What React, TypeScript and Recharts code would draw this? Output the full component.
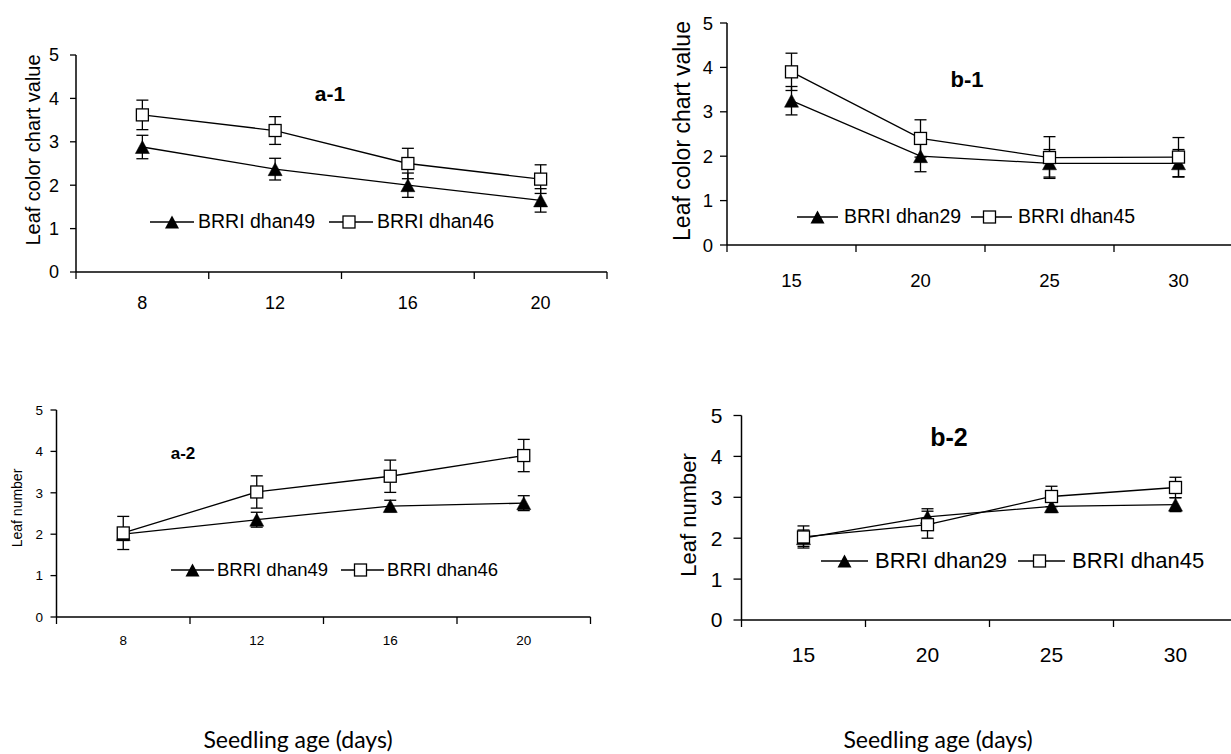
import React from 'react';
import { LineChart, Line, XAxis, YAxis, ErrorBar, Legend, Label } from 'recharts';

// ---------- data ----------
const agesA = ['8', '12', '16', '20'];
const agesB = ['15', '20', '25', '30'];
const yTicks = [0, 1, 2, 3, 4, 5];

const varietiesA = ['BRRI dhan49', 'BRRI dhan46'];
const varietiesB = ['BRRI dhan29', 'BRRI dhan45'];
const seriesKeys = ['tri', 'sq'];

const panelTitles = ['a-1', 'b-1', 'a-2', 'b-2'];
const lccTitle = 'Leaf color chart value';
const leafTitle = 'Leaf number';
const xTitle = 'Seedling age (days)';

// a-1 : leaf color chart value
const a1Dhan49 = [2.88, 2.37, 2.0, 1.65];
const a1Dhan49Err = [0.27, 0.25, 0.28, 0.27];
const a1Dhan46 = [3.62, 3.26, 2.5, 2.14];
const a1Dhan46Err = [0.34, 0.32, 0.35, 0.33];

// b-1 : leaf color chart value
const b1Dhan29 = [3.25, 2.0, 1.84, 1.84];
const b1Dhan29Err = [0.32, 0.35, 0.31, 0.31];
const b1Dhan45 = [3.9, 2.4, 1.97, 1.98];
const b1Dhan45Err = [0.42, 0.42, 0.47, 0.44];

// a-2 : leaf number
const a2Dhan49 = [2.0, 2.35, 2.68, 2.75];
const a2Dhan49Err = [0.15, 0.18, 0.14, 0.18];
const a2Dhan46 = [2.03, 3.02, 3.4, 3.9];
const a2Dhan46Err = [0.4, 0.39, 0.39, 0.39];

// b-2 : leaf number
const b2Dhan29 = [2.0, 2.52, 2.78, 2.82];
const b2Dhan29Err = [0.2, 0.2, 0.15, 0.17];
const b2Dhan45 = [2.03, 2.33, 3.02, 3.24];
const b2Dhan45Err = [0.27, 0.33, 0.25, 0.25];

type Row = { age: string; tri: number; triErr: number; sq: number; sqErr: number };

const buildRows = (cats: string[], s1: number[], e1: number[], s2: number[], e2: number[]): Row[] =>
  cats.map((c, i) => ({ age: c, tri: s1[i], triErr: e1[i], sq: s2[i], sqErr: e2[i] }));

const rowsA1 = buildRows(agesA, a1Dhan49, a1Dhan49Err, a1Dhan46, a1Dhan46Err);
const rowsB1 = buildRows(agesB, b1Dhan29, b1Dhan29Err, b1Dhan45, b1Dhan45Err);
const rowsA2 = buildRows(agesA, a2Dhan49, a2Dhan49Err, a2Dhan46, a2Dhan46Err);
const rowsB2 = buildRows(agesB, b2Dhan29, b2Dhan29Err, b2Dhan45, b2Dhan45Err);

// ---------- styling ----------
const ARIAL = '"Liberation Sans", Arial, Helvetica, sans-serif';
const CALIBRI = 'Lato, "Open Sans", sans-serif';
const BLACK = '#000';

const TriangleDot = (props: any) => {
  const { cx, cy } = props;
  if (cx == null || cy == null) return <g />;
  return <path d={`M${cx},${cy - 6.5} L${cx + 7},${cy + 6.5} L${cx - 7},${cy + 6.5} Z`} fill={BLACK} stroke={BLACK} strokeWidth={0.5} />;
};

const SquareDot = (props: any) => {
  const { cx, cy } = props;
  if (cx == null || cy == null) return <g />;
  return <rect x={cx - 6} y={cy - 6} width={12} height={12} fill="#fff" stroke={BLACK} strokeWidth={1.3} />;
};

const makeCatTick = (fontSize: number, labelOffset: number, tickLen: number) => (props: any) => {
  const { x, y, payload, index, visibleTicksCount } = props;
  const half = payload && typeof payload.offset === 'number' ? payload.offset : 0;
  const axisY = y;
  return (
    <g>
      <line x1={x - half} y1={axisY} x2={x - half} y2={axisY + tickLen} stroke={BLACK} strokeWidth={1.3} />
      {index === visibleTicksCount - 1 ? (
        <line x1={x + half} y1={axisY} x2={x + half} y2={axisY + tickLen} stroke={BLACK} strokeWidth={1.3} />
      ) : null}
      <text x={x} y={axisY + labelOffset} dy="0.355em" textAnchor="middle" fontSize={fontSize} fill={BLACK} fontFamily={ARIAL}>
        {payload.value}
      </text>
    </g>
  );
};

type PanelCfg = {
  rows: Row[];
  names: string[];
  title: string;
  yTitle: string;
  box: { left: number; top: number; width: number; height: number };
  margin: { top: number; right: number; bottom: number; left: number };
  yAxisWidth: number;
  xAxisHeight: number;
  tickFont: number;
  yTickSize: number;
  yTickMargin: number;
  xLabelOffset: number;
  yTitleFont: number;
  yTitlePos: [number, number];
  titleFont: number;
  titlePos: [number, number];
  legendFont: number;
  legendPos: [number, number];
  legendMarkerW: number;
  legendTextGap: number;
  legendItemGap: number;
  xTitlePos?: [number, number];
};

const Panel = ({ cfg }: { cfg: PanelCfg }) => {
  const legendH = 24;
  const renderLegend = (props: any) => {
    const payload = [...(props.payload || [])].sort(
      (a: any, b: any) => seriesKeys.indexOf(a.dataKey) - seriesKeys.indexOf(b.dataKey)
    );
    return (
      <div style={{ display: 'flex', alignItems: 'center', height: legendH, fontFamily: ARIAL, fontSize: cfg.legendFont, color: BLACK, whiteSpace: 'nowrap', lineHeight: 1 }}>
        {payload.map((p: any, i: number) => {
          const w = cfg.legendMarkerW;
          const isTri = p.dataKey === 'tri';
          const mx = isTri ? w / 2 : w / 2 - 2;
          return (
            <div key={i} style={{ display: 'flex', alignItems: 'center', marginLeft: i ? cfg.legendItemGap : 0 }}>
              <svg width={w} height={16} style={{ display: 'block' }}>
                <line x1={0} y1={8} x2={w} y2={8} stroke={BLACK} strokeWidth={1.3} />
                {isTri ? (
                  <path d={`M${mx},${1.5} L${mx + 7},${14.5} L${mx - 7},${14.5} Z`} fill={BLACK} />
                ) : (
                  <rect x={mx - 6} y={2} width={12} height={12} fill="#fff" stroke={BLACK} strokeWidth={1.3} />
                )}
              </svg>
              <span style={{ marginLeft: cfg.legendTextGap }}>{p.value}</span>
            </div>
          );
        })}
      </div>
    );
  };

  const [ytx, yty] = cfg.yTitlePos;
  return (
    <div style={{ position: 'absolute', left: cfg.box.left, top: cfg.box.top, width: cfg.box.width, height: cfg.box.height }}>
      <LineChart width={cfg.box.width} height={cfg.box.height} data={cfg.rows} margin={cfg.margin}>
        <XAxis
          dataKey="age"
          type="category"
          scale="band"
          interval={0}
          height={cfg.xAxisHeight}
          tickLine={false}
          tickSize={0}
          tickMargin={0}
          axisLine={{ stroke: BLACK, strokeWidth: 1.5 }}
          tick={makeCatTick(cfg.tickFont, cfg.xLabelOffset, 7)}
        >
          {cfg.xTitlePos ? (
            <Label
              content={() => (
                <text x={cfg.xTitlePos![0]} y={cfg.xTitlePos![1]} textAnchor="middle" fontSize={23} fill={BLACK} fontFamily={CALIBRI}>
                  {xTitle}
                </text>
              )}
            />
          ) : null}
        </XAxis>
        <YAxis
          type="number"
          domain={[0, 5]}
          ticks={yTicks}
          interval={0}
          width={cfg.yAxisWidth}
          tickSize={cfg.yTickSize}
          tickMargin={cfg.yTickMargin}
          axisLine={{ stroke: BLACK, strokeWidth: 1.5 }}
          tickLine={{ stroke: BLACK, strokeWidth: 1.3 }}
          tick={{ fontSize: cfg.tickFont, fill: BLACK, fontFamily: ARIAL }}
        >
          <Label
            content={() => (
              <text
                x={ytx}
                y={yty}
                dy="0.36em"
                transform={`rotate(-90 ${ytx} ${yty})`}
                textAnchor="middle"
                fontSize={cfg.yTitleFont}
                fill={BLACK}
                fontFamily={ARIAL}
              >
                {cfg.yTitle}
              </text>
            )}
          />
        </YAxis>
        <Legend
          layout="horizontal"
          align="center"
          verticalAlign="middle"
          content={renderLegend}
          wrapperStyle={{ left: cfg.legendPos[0], top: cfg.legendPos[1] - legendH / 2, width: 'auto', height: legendH }}
        />
        <Line
          dataKey="tri"
          name={cfg.names[0]}
          stroke={BLACK}
          strokeWidth={1.3}
          dot={TriangleDot}
          activeDot={false}
          isAnimationActive={false}
        >
          <ErrorBar dataKey="triErr" direction="y" width={6} stroke={BLACK} strokeWidth={1.3} />
        </Line>
        <Line
          dataKey="sq"
          name={cfg.names[1]}
          stroke={BLACK}
          strokeWidth={1.3}
          dot={SquareDot}
          activeDot={false}
          isAnimationActive={false}
        >
          <ErrorBar dataKey="sqErr" direction="y" width={6} stroke={BLACK} strokeWidth={1.3} />
        </Line>
      </LineChart>
      <div
        style={{
          position: 'absolute',
          left: cfg.titlePos[0],
          top: cfg.titlePos[1],
          transform: 'translate(-50%, -50%)',
          fontFamily: ARIAL,
          fontWeight: 'bold',
          fontSize: cfg.titleFont,
          lineHeight: 1,
          color: BLACK,
          whiteSpace: 'nowrap',
          pointerEvents: 'none',
        }}
      >
        {cfg.title}
      </div>
    </div>
  );
};

const panels: PanelCfg[] = [
  {
    rows: rowsA1,
    names: varietiesA,
    title: panelTitles[0],
    yTitle: lccTitle,
    box: { left: 0, top: 0, width: 615, height: 330 },
    margin: { top: 55, right: 8, bottom: 18, left: 0 },
    yAxisWidth: 76,
    xAxisHeight: 40,
    tickFont: 18,
    yTickSize: 6,
    yTickMargin: 11,
    xLabelOffset: 31,
    yTitleFont: 20,
    yTitlePos: [33, 150],
    titleFont: 21,
    titlePos: [330, 93],
    legendFont: 19.5,
    legendPos: [150, 222],
    legendMarkerW: 44,
    legendTextGap: 4,
    legendItemGap: 14,
  },
  {
    rows: rowsB1,
    names: varietiesB,
    title: panelTitles[1],
    yTitle: lccTitle,
    box: { left: 620, top: 0, width: 625, height: 330 },
    margin: { top: 23, right: 2, bottom: 45, left: 0 },
    yAxisWidth: 107,
    xAxisHeight: 40,
    tickFont: 18.5,
    yTickSize: 7,
    yTickMargin: 7,
    xLabelOffset: 35,
    yTitleFont: 23,
    yTitlePos: [62, 131],
    titleFont: 22,
    titlePos: [347, 80],
    legendFont: 19.5,
    legendPos: [177, 217],
    legendMarkerW: 41,
    legendTextGap: 6,
    legendItemGap: 10,
  },
  {
    rows: rowsA2,
    names: varietiesA,
    title: panelTitles[2],
    yTitle: leafTitle,
    box: { left: 0, top: 340, width: 615, height: 414 },
    margin: { top: 70, right: 24.5, bottom: 0, left: 0 },
    yAxisWidth: 56.5,
    xAxisHeight: 137,
    tickFont: 13.5,
    yTickSize: 6,
    yTickMargin: 7.5,
    xLabelOffset: 23,
    yTitleFont: 14,
    yTitlePos: [17, 168],
    titleFont: 17,
    titlePos: [183, 113],
    legendFont: 18.5,
    legendPos: [171, 230],
    legendMarkerW: 43,
    legendTextGap: 3,
    legendItemGap: 13,
    xTitlePos: [298, 408],
  },
  {
    rows: rowsB2,
    names: varietiesB,
    title: panelTitles[3],
    yTitle: leafTitle,
    box: { left: 620, top: 340, width: 625, height: 414 },
    margin: { top: 75.5, right: 7.5, bottom: 0, left: 0 },
    yAxisWidth: 121.5,
    xAxisHeight: 134,
    tickFont: 21,
    yTickSize: 8,
    yTickMargin: 11,
    xLabelOffset: 34.5,
    yTitleFont: 22,
    yTitlePos: [68, 175],
    titleFont: 25,
    titlePos: [329, 97],
    legendFont: 22,
    legendPos: [201, 221],
    legendMarkerW: 47,
    legendTextGap: 7,
    legendItemGap: 11,
    xTitlePos: [318, 408],
  },
];

export default function App() {
  return (
    <div style={{ position: 'absolute', left: 0, top: 0, width: 1231, height: 754, overflow: 'hidden', background: '#fff' }}>
      {panels.map((p, i) => (
        <Panel key={i} cfg={p} />
      ))}
    </div>
  );
}
